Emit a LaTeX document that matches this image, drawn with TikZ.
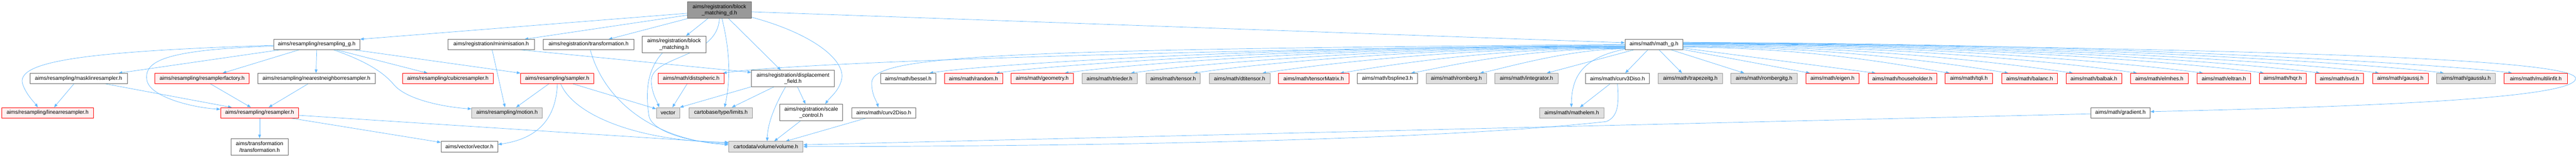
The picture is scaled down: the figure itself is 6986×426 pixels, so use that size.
\documentclass[tikz,border=0pt]{standalone}
\usepackage{fontspec}
\setmainfont{Liberation Sans}
\usetikzlibrary{arrows.meta}
\definecolor{edgec}{HTML}{63B8FF}
\definecolor{wbord}{HTML}{666666}
\definecolor{pfill}{HTML}{FFF0F0}
\definecolor{pbord}{HTML}{FF0000}
\definecolor{gfill}{HTML}{E0E0E0}
\definecolor{gbord}{HTML}{999999}
\definecolor{mfill}{HTML}{999999}
\pgfdeclarelayer{bg}
\pgfsetlayers{bg,main}
\newcommand\mkbox[7]{\node[nd,#2,minimum width={(#4-#3)*1pt},minimum height={(#6-#5)*1pt}] (#1) at ({(#3+#4)/2},{(#5+#6)/2}) {#7};}
\begin{document}
\begin{tikzpicture}[x=1pt,y=-1pt,
  nd/.style={rectangle,inner sep=0pt,line width=1pt,align=center,font=\fontsize{14.6}{17}\selectfont},
  wh/.style={fill=white,draw=wbord},
  pk/.style={fill=pfill,draw=pbord},
  gr/.style={fill=gfill,draw=gbord},
  mn/.style={fill=mfill,draw=wbord},
  edge/.style={draw=edgec,line width=1pt,-{Triangle[length=10pt,width=7.5pt]}}]
\useasboundingbox (0,0) rectangle (6986,426);
% top
\mkbox{main}{mn}{1865}{2037}{5}{50}{aims/registration/block\\\_matching\_d.h}
% row 2
\mkbox{resg}{wh}{742}{976}{107}{134}{aims/resampling/resampling\_g.h}
\mkbox{minim}{wh}{1215}{1449}{107}{134}{aims/registration/minimisation.h}
\mkbox{regtr}{wh}{1473}{1719}{107}{134}{aims/registration/transformation.h}
\mkbox{bm}{wh}{1742}{1914}{98}{143}{aims/registration/block\\\_matching.h}
\mkbox{mathg}{wh}{4407}{4564}{107}{134}{aims/math/math\_g.h}
% row 3
\mkbox{mask}{wh}{81}{345}{199}{227}{aims/resampling/masklinresampler.h}
\mkbox{rfac}{pk}{420}{676}{199}{227}{aims/resampling/resamplerfactory.h}
\mkbox{nn}{wh}{699}{1017}{199}{227}{aims/resampling/nearestneighborresampler.h}
\mkbox{cubic}{pk}{1092}{1337}{199}{227}{aims/resampling/cubicresampler.h}
\mkbox{sampler}{pk}{1412}{1610}{199}{227}{aims/resampling/sampler.h}
\mkbox{dsph}{pk}{1785}{1964}{199}{227}{aims/math/distspheric.h}
\mkbox{disp}{wh}{2038}{2263}{191}{235}{aims/registration/displacement\\\_field.h}
\mkbox{bessel}{wh}{2388}{2538}{199}{227}{aims/math/bessel.h}
\mkbox{random}{pk}{2561}{2719}{199}{227}{aims/math/random.h}
\mkbox{geom}{pk}{2742}{2911}{199}{227}{aims/math/geometry.h}
\mkbox{trieder}{gr}{2934}{3084}{199}{227}{aims/math/trieder.h}
\mkbox{tensor}{gr}{3108}{3255}{199}{227}{aims/math/tensor.h}
\mkbox{dti}{gr}{3279}{3444}{199}{227}{aims/math/dtitensor.h}
\mkbox{tmat}{pk}{3467}{3658}{199}{227}{aims/math/tensorMatrix.h}
\mkbox{bsp}{wh}{3681}{3844}{199}{227}{aims/math/bspline3.h}
\mkbox{romb}{gr}{3868}{4031}{199}{227}{aims/math/romberg.h}
\mkbox{integ}{gr}{4054}{4225}{199}{227}{aims/math/integrator.h}
\mkbox{c3d}{wh}{4300}{4473}{199}{227}{aims/math/curv3Diso.h}
\mkbox{trap}{gr}{4497}{4671}{199}{227}{aims/math/trapezeitg.h}
\mkbox{rombi}{gr}{4694}{4874}{199}{227}{aims/math/rombergitg.h}
\mkbox{eigen}{pk}{4897}{5042}{199}{227}{aims/math/eigen.h}
\mkbox{house}{pk}{5066}{5252}{199}{227}{aims/math/householder.h}
\mkbox{tqli}{pk}{5275}{5404}{199}{227}{aims/math/tqli.h}
\mkbox{balanc}{pk}{5429}{5579}{199}{227}{aims/math/balanc.h}
\mkbox{balbak}{pk}{5603}{5754}{199}{227}{aims/math/balbak.h}
\mkbox{elmhes}{pk}{5778}{5934}{199}{227}{aims/math/elmhes.h}
\mkbox{eltran}{pk}{5958}{6104}{199}{227}{aims/math/eltran.h}
\mkbox{hqr}{pk}{6127}{6254}{199}{227}{aims/math/hqr.h}
\mkbox{svd}{pk}{6279}{6410}{199}{227}{aims/math/svd.h}
\mkbox{gaussj}{pk}{6434}{6585}{199}{227}{aims/math/gaussj.h}
\mkbox{gausslu}{gr}{6608}{6767}{199}{227}{aims/math/gausslu.h}
\mkbox{mlf}{pk}{6791}{6963}{199}{227}{aims/math/multilinfit.h}
% row 4
\mkbox{linres}{pk}{4}{254}{292}{320}{aims/resampling/linearresampler.h}
\mkbox{resampler}{pk}{598}{810}{292}{320}{aims/resampling/resampler.h}
\mkbox{motion}{gr}{1279}{1471}{292}{320}{aims/resampling/motion.h}
\mkbox{vec}{gr}{1780}{1843}{292}{320}{vector}
\mkbox{limits}{gr}{1869}{2041}{292}{320}{cartobase/type/limits.h}
\mkbox{scale}{wh}{2115}{2285}{283}{328}{aims/registration/scale\\\_control.h}
\mkbox{c2d}{wh}{2310}{2483}{292}{320}{aims/math/curv2Diso.h}
\mkbox{mathelem}{gr}{4175}{4350}{292}{320}{aims/math/mathelem.h}
\mkbox{gradient}{wh}{5670}{5831}{292}{320}{aims/math/gradient.h}
% row 5
\mkbox{trf}{wh}{627}{781}{376}{421}{aims/transformation\\/transformation.h}
\mkbox{vv}{wh}{1196}{1350}{384}{412}{aims/vector/vector.h}
\mkbox{vol}{gr}{1976}{2178}{384}{412}{cartodata/volume/volume.h}

\begin{pgfonlayer}{bg}
\begin{scope}[edge]
% from main
\draw ([yshift=-8.5]main.west) -- (resg.north east);
\draw ([yshift=-13.5]main.west) -- ([xshift=-27]minim.north east);
\draw (main.south west) -- ([xshift=-69]regtr.north east);
\draw ([xshift=55]main.south west) -- ([xshift=-54]bm.north east);
\draw (main.south) .. controls (1945,160) and (1766,150) .. (1766,220) .. controls (1768,255) and (1782,275) .. ([xshift=8]vec.north west);
\draw ([xshift=7]main.south) .. controls (1975,120) and (1985,200) .. ([xshift=10]limits.north);
\draw ([xshift=25]main.south) -- ([xshift=80]disp.north west);
\draw ([yshift=-4.5]main.east) -- ([yshift=4.5]mathg.west);
\draw ([yshift=-19]main.east) .. controls (2200,90) and (2290,160) .. (2283,212) .. controls (2278,245) and (2250,265) .. ([xshift=38]scale.north);
% from resampling_g
\draw ([yshift=-2.5]resg.west) .. controls (200,140) and (40,170) .. (62,230) .. controls (72,258) and (95,280) .. ([xshift=99]linres.north west);
\draw ([yshift=-4.5]resg.west) .. controls (450,135) and (392,165) .. (398,215) .. controls (402,262) and (520,292) .. ([yshift=-5]resampler.north west);
\draw ([xshift=23]resg.south west) -- ([xshift=-24]mask.north east);
\draw ([xshift=72]resg.south west) -- ([xshift=-73]rfac.north east);
\draw (resg.south) -- ([xshift=-1]nn.north);
\draw ([xshift=161]resg.south west) .. controls (990,165) and (1040,195) .. (1070,232) .. controls (1110,275) and (1220,292) .. ([yshift=-4]motion.north west);
\draw ([xshift=168]resg.south west) -- ([xshift=68]cubic.north west);
\draw ([xshift=-22]resg.south east) -- (sampler.north west);
% resamplers
\draw ([xshift=137]nn.south west) -- ([xshift=131]resampler.north west);
\draw ([xshift=120]mask.south west) -- ([xshift=143]linres.north west);
\draw ([xshift=205]mask.south west) -- ([xshift=31]resampler.north west);
\draw ([xshift=151]rfac.south west) -- ([xshift=83]resampler.north west);
\draw (resampler.south) -- (trf.north);
\draw ([xshift=-23]resampler.south east) -- ([yshift=-3]vv.north west);
\draw ([yshift=-7]resampler.east) -- ([yshift=10]vol.west);
% sampler
\draw ([xshift=77]sampler.south west) -- ([xshift=121]motion.north west);
\draw ([xshift=100]sampler.south west) .. controls (1508,330) and (1450,378) .. ([yshift=6]vv.east);
\draw ([xshift=109]sampler.south west) .. controls (1560,320) and (1750,385) .. ([yshift=12]vol.west);
\draw ([xshift=142]sampler.south west) -- ([yshift=-4]vec.north west);
% registration
\draw ([xshift=120]minim.south west) -- ([xshift=91]motion.north west);
\draw ([xshift=190]minim.south west) -- ([yshift=-6]disp.north west);
\draw ([xshift=128]regtr.south west) .. controls (1640,280) and (1780,380) .. ([yshift=5]vol.west);
\draw ([xshift=55]bm.south west) .. controls (1750,195) and (1752,260) .. (1760,315) .. controls (1770,360) and (1880,388) .. ([yshift=8]vol.west);
\draw ([xshift=79]dsph.south west) -- ([xshift=44]vec.north west);
\draw (disp.south west) -- (vec.north east);
\draw ([xshift=62]disp.south west) -- ([xshift=116]limits.north west);
\draw ([xshift=93]disp.south west) .. controls (2105,280) and (2082,330) .. ([xshift=105]vol.north west);
\draw ([xshift=125]disp.south west) -- ([xshift=70]scale.north west);
\draw ([xshift=56]scale.south west) -- ([xshift=124]vol.north west);
\draw ([xshift=40]c2d.south west) -- ([xshift=155]vol.north west);
\draw ([xshift=87]c3d.south west) .. controls (4392,290) and (4385,318) .. (4356,330) .. controls (3900,380) and (3000,397) .. (vol.east);
\draw ([yshift=-3]gradient.west) -- ([yshift=5]vol.east);
\draw ([xshift=67]c3d.south west) -- ([xshift=110]mathelem.north west);
% math_g left fan
\draw ([yshift=-2]mathg.west) .. controls (3200,135) and (2150,170) .. ([xshift=-4]dsph.north east);
\draw (mathg.west) .. controls (2700,135) and (2364,150) .. (2364,225) .. controls (2364,260) and (2378,275) .. ([xshift=-15]c2d.north);
\draw ([yshift=-4]mathg.west) .. controls +(-940,0) and +(150,-24) .. ([xshift=-18]bessel.north east);
\draw ([yshift=-5]mathg.west) .. controls +(-850,0) and +(150,-22) .. ([xshift=-19]random.north east);
\draw ([yshift=-6]mathg.west) .. controls +(-760,0) and +(150,-22) .. ([xshift=-24]geom.north east);
\draw ([yshift=-7]mathg.west) .. controls +(-670,0) and +(140,-20) .. ([xshift=-18]trieder.north east);
\draw ([yshift=-8]mathg.west) .. controls +(-580,0) and +(130,-20) .. ([xshift=-18]tensor.north east);
\draw ([yshift=-9]mathg.west) .. controls +(-490,0) and +(120,-18) .. ([xshift=-21]dti.north east);
\draw ([yshift=-10]mathg.west) .. controls +(-380,0) and +(100,-16) .. ([xshift=-24]tmat.north east);
\draw ([yshift=-11]mathg.west) .. controls +(-290,0) and +(80,-14) .. ([xshift=-18]bsp.north east);
\draw ([yshift=-12]mathg.west) .. controls +(-150,0) and +(60,-12) .. ([xshift=-18]romb.north east);
\draw ([xshift=27]mathg.south west) -- ([xshift=-31]integ.north east);
\draw ([yshift=-13]mathg.west) .. controls (4300,155) and (4262,200) .. ([xshift=87]mathelem.north west);
\draw ([xshift=63]mathg.south west) -- ([xshift=108]c3d.north west);
\draw ([xshift=92]mathg.south west) -- ([xshift=65]trap.north west);
\draw ([xshift=123]mathg.south west) -- ([xshift=37]rombi.north west);
% math_g right fan
\draw (mathg.south east) -- ([xshift=12]eigen.north west);
\draw ([yshift=-10]mathg.east) -- ([xshift=21]house.north west);
\draw ([yshift=-8]mathg.east) .. controls +(360,0) and +(-100,-16) .. ([xshift=13]tqli.north west);
\draw ([yshift=-6]mathg.east) .. controls +(440,0) and +(-110,-18) .. ([xshift=18]balanc.north west);
\draw ([yshift=-4]mathg.east) .. controls +(530,0) and +(-120,-18) .. ([xshift=19]balbak.north west);
\draw ([yshift=-2]mathg.east) .. controls +(620,0) and +(-130,-20) .. ([xshift=18]elmhes.north west);
\draw (mathg.east) .. controls +(700,0) and +(-140,-20) .. ([xshift=17]eltran.north west);
\draw ([yshift=1]mathg.east) .. controls +(790,0) and +(-150,-22) .. ([xshift=13]hqr.north west);
\draw ([yshift=2]mathg.east) .. controls +(860,0) and +(-150,-22) .. ([xshift=13]svd.north west);
\draw ([yshift=3]mathg.east) .. controls +(940,0) and +(-150,-22) .. ([xshift=18]gaussj.north west);
\draw ([yshift=4]mathg.east) .. controls +(1030,0) and +(-150,-22) .. ([xshift=20]gausslu.north west);
\draw ([yshift=5]mathg.east) .. controls +(1120,0) and +(-150,-22) .. ([xshift=22]mlf.north west);
\draw ([yshift=6]mathg.east) .. controls (5800,130) and (6985,150) .. (6985,213) .. controls (6985,268) and (6400,290) .. ([yshift=3]gradient.east);
\end{scope}
\end{pgfonlayer}
\end{tikzpicture}
\end{document}
